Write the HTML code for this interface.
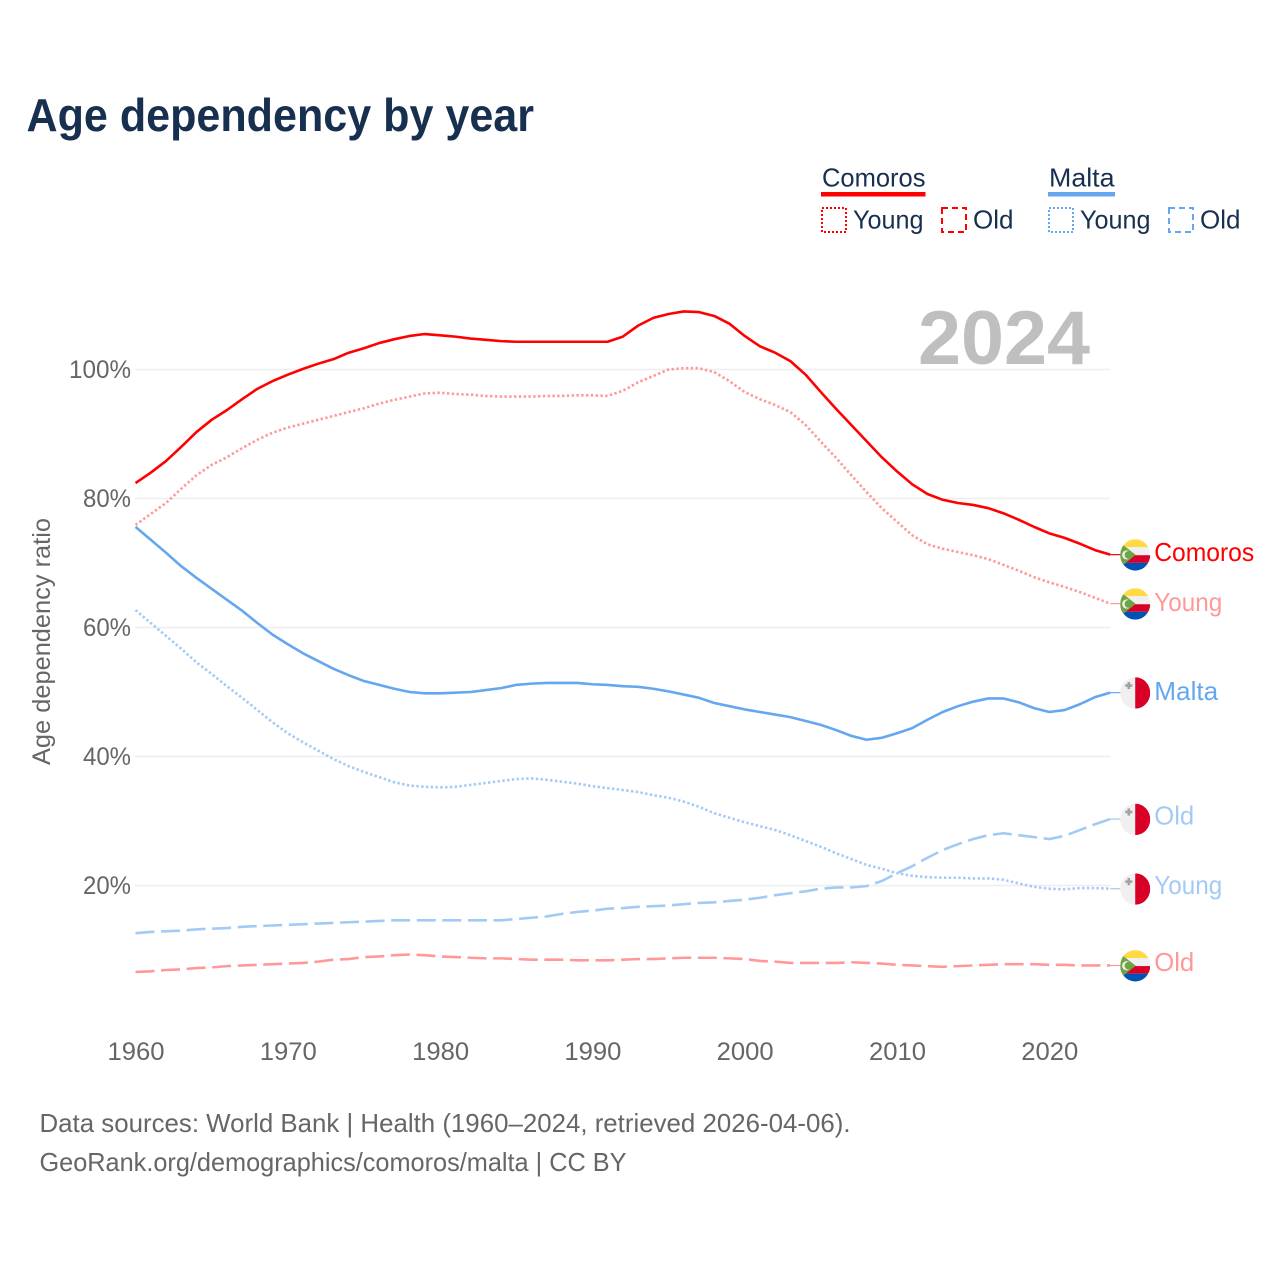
<!DOCTYPE html>
<html lang="en">
<head>
<meta charset="utf-8">
<title>Age dependency by year</title>
<style>
html,body{margin:0;padding:0;background:#fff;}
svg{display:block;font-family:"Liberation Sans",sans-serif;}
</style>
</head>
<body>
<svg id="chart" xmlns="http://www.w3.org/2000/svg" width="1280" height="1280" viewBox="0 0 1280 1280">
  <defs>
    <clipPath id="flag-clip"><ellipse cx="15" cy="15.7" rx="15" ry="15.7"/></clipPath>
    <symbol id="flag-comoros" width="30" height="32" viewBox="0 0 30 31.4">
      <g clip-path="url(#flag-clip)">
        <rect width="30" height="8" fill="#ffda44"/>
        <rect y="8" width="30" height="8" fill="#f0f0f0"/>
        <rect y="16" width="30" height="7.6" fill="#d80027"/>
        <rect y="23.6" width="30" height="8" fill="#0052b4"/>
        <path d="M0 3.500 L15.500 15.700 L0 28Z" fill="#6da544"/>
        <circle cx="6.500" cy="15.700" r="4.600" fill="#f0f0f0"/>
        <circle cx="8.300" cy="15.700" r="3.900" fill="#6da544"/>
      </g>
    </symbol>
    <symbol id="flag-malta" width="30" height="32" viewBox="0 0 30 31.4">
      <g clip-path="url(#flag-clip)">
        <rect width="15" height="31.4" fill="#f0f0f0"/>
        <rect x="15" width="15" height="31.4" fill="#d80027"/>
        <path d="M7.300 4.700h2.600v2.300h2.300v2.600h-2.300v2.300h-2.600v-2.300h-2.300v-2.600h2.300z" fill="#a2a2a2"/>
      </g>
    </symbol>
  </defs>

  <text x="26.500" y="131" font-size="46" font-weight="700" fill="#17304f" textLength="507.500" lengthAdjust="spacingAndGlyphs">Age dependency by year</text>

  <g font-size="26" fill="#17304f">
    <g>
      <text x="822" y="186.500" textLength="103.500" lengthAdjust="spacingAndGlyphs">Comoros</text>
      <rect x="821" y="192" width="104.500" height="4.500" fill="#ff0000"/>
      <rect x="822" y="208" width="24" height="24" fill="none" stroke="#ff0000" stroke-width="2" stroke-dasharray="2 2"/>
      <text x="853" y="228.500" textLength="70.500" lengthAdjust="spacingAndGlyphs">Young</text>
      <rect x="942" y="208" width="24" height="24" fill="none" stroke="#ff0000" stroke-width="2" stroke-dasharray="6 4"/>
      <text x="973" y="228.500" textLength="40.500" lengthAdjust="spacingAndGlyphs">Old</text>
    </g>
    <g>
      <text x="1049" y="186.500" textLength="65.500" lengthAdjust="spacingAndGlyphs">Malta</text>
      <rect x="1048" y="192" width="67" height="4.500" fill="#64a7ef"/>
      <rect x="1049" y="208" width="24" height="24" fill="none" stroke="#64a7ef" stroke-width="2" stroke-dasharray="2 2"/>
      <text x="1080" y="228.500" textLength="70.500" lengthAdjust="spacingAndGlyphs">Young</text>
      <rect x="1169" y="208" width="24" height="24" fill="none" stroke="#64a7ef" stroke-width="2" stroke-dasharray="6 4"/>
      <text x="1200" y="228.500" textLength="40.500" lengthAdjust="spacingAndGlyphs">Old</text>
    </g>
  </g>

  <g id="grid"></g>
  <g id="ytick-labels"></g>
  <g id="xtick-labels"></g>

  <text transform="translate(50,765) rotate(-90)" font-size="25" fill="#666666" textLength="247" lengthAdjust="spacingAndGlyphs">Age dependency ratio</text>

  <text x="918" y="364" font-size="76" font-weight="700" fill="#bfbfbf" textLength="172" lengthAdjust="spacingAndGlyphs">2024</text>

  <g id="series"></g>
  <g id="end-labels"></g>

  <g font-size="26" fill="#666666">
    <text x="39.500" y="1132" textLength="811" lengthAdjust="spacingAndGlyphs">Data sources: World Bank | Health (1960–2024, retrieved 2026-04-06).</text>
    <text x="39.500" y="1171" textLength="587" lengthAdjust="spacingAndGlyphs">GeoRank.org/demographics/comoros/malta | CC BY</text>
  </g>
</svg>

<script>
const startYear = 1960;
const yTicks = [20, 40, 60, 80, 100];
const xTicks = [1960, 1970, 1980, 1990, 2000, 2010, 2020];

const comorosTotal = [82.4,84.0,85.8,88.0,90.3,92.2,93.7,95.4,97.0,98.2,99.2,100.1,100.9,101.6,102.6,103.3,104.1,104.7,105.2,105.5,105.3,105.1,104.8,104.6,104.4,104.3,104.3,104.3,104.3,104.3,104.3,104.3,105.1,106.8,108.0,108.6,109.0,108.9,108.3,107.1,105.2,103.6,102.6,101.3,99.2,96.5,93.9,91.4,88.9,86.4,84.2,82.2,80.7,79.8,79.3,79.0,78.5,77.7,76.7,75.6,74.6,73.9,73.0,72.0,71.3];
const comorosYoung = [75.9,77.6,79.3,81.5,83.6,85.2,86.4,87.8,89.1,90.2,91.0,91.6,92.2,92.8,93.4,94.0,94.7,95.3,95.8,96.3,96.4,96.2,96.1,95.9,95.8,95.8,95.8,95.9,95.9,96.0,96.0,95.9,96.7,98.0,99.0,100.0,100.2,100.2,99.6,98.2,96.5,95.4,94.5,93.4,91.4,88.8,86.3,83.6,81.0,78.5,76.4,74.3,72.9,72.2,71.7,71.2,70.6,69.7,68.8,67.8,67.0,66.3,65.5,64.6,63.7];
const comorosOld = [6.6,6.7,6.9,7.0,7.2,7.3,7.5,7.6,7.7,7.8,7.9,8.0,8.2,8.5,8.6,8.9,9.0,9.2,9.3,9.2,9.0,8.9,8.8,8.7,8.7,8.6,8.5,8.5,8.5,8.4,8.4,8.4,8.5,8.6,8.6,8.7,8.8,8.8,8.8,8.7,8.6,8.3,8.2,8.0,8.0,8.0,8.0,8.1,8.0,7.9,7.7,7.6,7.5,7.4,7.5,7.6,7.7,7.8,7.8,7.8,7.7,7.7,7.6,7.6,7.6];
const maltaTotal = [75.6,73.6,71.6,69.5,67.7,66.0,64.3,62.6,60.7,58.9,57.4,56.0,54.8,53.6,52.6,51.7,51.1,50.5,50.0,49.8,49.8,49.9,50.0,50.3,50.6,51.1,51.3,51.4,51.4,51.4,51.2,51.1,50.9,50.8,50.5,50.1,49.6,49.1,48.3,47.8,47.3,46.9,46.5,46.1,45.5,44.9,44.1,43.2,42.6,42.9,43.6,44.4,45.7,46.9,47.8,48.5,49.0,49.0,48.4,47.5,46.9,47.2,48.1,49.2,49.9];
const maltaYoung = [62.7,60.7,58.7,56.7,54.6,52.8,50.9,49.1,47.2,45.3,43.6,42.2,40.9,39.6,38.5,37.6,36.8,36.0,35.5,35.3,35.2,35.3,35.6,35.9,36.2,36.5,36.6,36.4,36.1,35.8,35.4,35.1,34.8,34.5,34.0,33.6,33.0,32.2,31.2,30.5,29.8,29.2,28.6,27.8,26.9,26.0,25.0,24.1,23.2,22.6,21.9,21.5,21.3,21.2,21.2,21.1,21.1,20.9,20.3,19.8,19.5,19.4,19.6,19.6,19.5];
const maltaOld = [12.6,12.8,12.9,13.0,13.2,13.3,13.4,13.6,13.7,13.8,13.9,14.0,14.1,14.2,14.3,14.4,14.5,14.6,14.6,14.6,14.6,14.6,14.6,14.6,14.6,14.8,15.0,15.2,15.6,15.9,16.1,16.4,16.5,16.7,16.8,16.9,17.1,17.3,17.4,17.6,17.8,18.1,18.5,18.8,19.1,19.5,19.7,19.7,19.9,20.7,21.9,23.0,24.3,25.5,26.4,27.2,27.8,28.1,27.8,27.5,27.2,27.7,28.6,29.5,30.3];

const SVGNS = 'http://www.w3.org/2000/svg';
function xScale(year) { return 135.5 + (year - 1960) * 15.23; }
function yScale(v) { return 885.5 - (v - 20) * 6.45; }
function node(tag, parent) {
  const el = document.createElementNS(SVGNS, tag);
  parent.appendChild(el);
  return el;
}
const gridG = document.getElementById('grid');
const yG = document.getElementById('ytick-labels');
const xG = document.getElementById('xtick-labels');
const seriesG = document.getElementById('series');
const labelsG = document.getElementById('end-labels');

yTicks.forEach(function (t) {
  const line = node('line', gridG);
  
  
  line.setAttribute('x1', 135);
  line.setAttribute('x2', 1110);
  line.setAttribute('y1', yScale(t));
  line.setAttribute('y2', yScale(t));
  line.setAttribute('stroke', '#eeeeee');
  line.setAttribute('stroke-width', 1.5);
  const label = node('text', yG);
  
  
  label.setAttribute('x', 131);
  label.setAttribute('y', yScale(t) + 8.5);
  label.setAttribute('text-anchor', 'end');
  label.setAttribute('font-size', 25);
  label.setAttribute('fill', '#666666');
  label.setAttribute('textLength', t === 100 ? 62 : 48);
  label.setAttribute('lengthAdjust', 'spacingAndGlyphs');
  label.textContent = t + '%';
});

xTicks.forEach(function (t) {
  const label = node('text', xG);
  
  
  label.setAttribute('x', xScale(t) + 0.5);
  label.setAttribute('y', 1060);
  label.setAttribute('text-anchor', 'middle');
  label.setAttribute('font-size', 25);
  label.setAttribute('fill', '#666666');
  label.setAttribute('textLength', 57);
  label.setAttribute('lengthAdjust', 'spacingAndGlyphs');
  label.textContent = t;
});

const seriesDefs = [
  { key: 'malta-old', values: maltaOld, color: '#a3caf5', dash: '19 6.6', flag: 'flag-malta', label: 'Old', w: 40, dy: 5.5 },
  { key: 'comoros-old', values: comorosOld, color: '#ff9999', dash: '19 6.6', flag: 'flag-comoros', label: 'Old', w: 40, dy: 5.5 },
  { key: 'malta-young', values: maltaYoung, color: '#a3caf5', dash: '2.4 2.4', flag: 'flag-malta', label: 'Young', w: 68, dy: 5.5 },
  { key: 'comoros-young', values: comorosYoung, color: '#ff9999', dash: '2.4 2.4', flag: 'flag-comoros', label: 'Young', w: 68, dy: 7.5 },
  { key: 'malta-total', values: maltaTotal, color: '#64a7ef', dash: null, flag: 'flag-malta', label: 'Malta', w: 64, dy: 7.5 },
  { key: 'comoros-total', values: comorosTotal, color: '#ff0000', dash: null, flag: 'flag-comoros', label: 'Comoros', w: 100, dy: 6.5 }
];

seriesDefs.forEach(function (s) {
  const pts = s.values.map(function (v, i) {
    return xScale(startYear + i).toFixed(2) + ',' + yScale(v).toFixed(2);
  }).join(' ');
  const line = node('polyline', seriesG);
  
  
  line.setAttribute('points', pts);
  line.setAttribute('fill', 'none');
  line.setAttribute('stroke', s.color);
  line.setAttribute('stroke-width', 2.6);
  line.setAttribute('stroke-linejoin', 'round');
  if (s.dash) line.setAttribute('stroke-dasharray', s.dash);

  const lastYear = startYear + s.values.length - 1;
  const endX = xScale(lastYear);
  const endY = yScale(s.values[s.values.length - 1]);
  const connector = node('line', labelsG);
  
  
  connector.setAttribute('x1', endX);
  connector.setAttribute('x2', endX + 11);
  connector.setAttribute('y1', endY);
  connector.setAttribute('y2', endY);
  connector.setAttribute('stroke', s.color);
  connector.setAttribute('stroke-width', 1.2);

  const flag = node('use', labelsG);
  
  
  flag.setAttribute('href', '#' + s.flag);
  flag.setAttribute('x', endX + 10);
  flag.setAttribute('y', endY - 15.7);
  flag.setAttribute('width', 30);
  flag.setAttribute('height', 32);

  const label = node('text', labelsG);
  
  
  label.setAttribute('x', endX + 44);
  label.setAttribute('y', endY + s.dy);
  label.setAttribute('font-size', 26);
  label.setAttribute('fill', s.color);
  label.setAttribute('textLength', s.w);
  label.setAttribute('lengthAdjust', 'spacingAndGlyphs');
  label.textContent = s.label;
});
</script>
</body>
</html>
